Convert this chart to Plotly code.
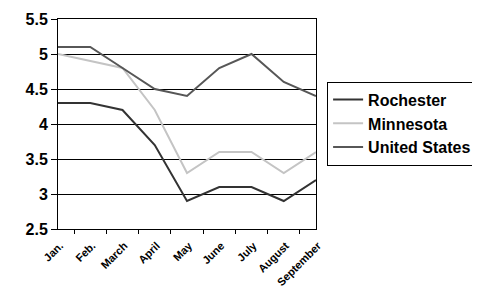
import plotly.graph_objects as go

months = ["Jan.", "Feb.", "March", "April", "May", "June", "July", "August", "September"]
rochester = [4.3, 4.3, 4.2, 3.7, 2.9, 3.1, 3.1, 2.9, 3.2]
minnesota = [5.0, 4.9, 4.8, 4.2, 3.3, 3.6, 3.6, 3.3, 3.6]
united_states = [5.1, 5.1, 4.8, 4.5, 4.4, 4.8, 5.0, 4.6, 4.4]

fig = go.Figure()
fig.add_trace(go.Scatter(x=months, y=rochester, name="Rochester", mode="lines",
                         line=dict(color="#333333", width=2)))
fig.add_trace(go.Scatter(x=months, y=minnesota, name="Minnesota", mode="lines",
                         line=dict(color="#c4c4c4", width=2)))
fig.add_trace(go.Scatter(x=months, y=united_states, name="United States", mode="lines",
                         line=dict(color="#575757", width=2)))

font = "Liberation Sans, Arial, sans-serif"
fig.update_layout(
    width=472, height=280,
    margin=dict(l=50, r=164, t=11, b=59, autoexpand=False),
    paper_bgcolor="white", plot_bgcolor="white",
    font=dict(family=font, color="black"),
    showlegend=True,
    legend=dict(x=1.043, y=0.502, xanchor="left", yanchor="middle",
                bordercolor="black", borderwidth=1,
                font=dict(size=16, family=font, weight="bold"),
                itemwidth=30, tracegroupgap=0),
    xaxis=dict(type="category", showgrid=False, showline=True, linecolor="black",
               linewidth=1, mirror=True, ticks="outside", tickson="boundaries",
               ticklen=4, tickcolor="black", tickangle=-45, automargin=False,
               ticklabelshift=2, ticklabelstandoff=5,
               tickfont=dict(size=11, family=font, weight="bold")),
    yaxis=dict(range=[2.5, 5.5], dtick=0.5, showgrid=True, gridcolor="black",
               gridwidth=1, showline=True, linecolor="black", linewidth=1,
               mirror=True, ticks="outside", ticklen=6, tickcolor="black",
               automargin=False,
               tickfont=dict(size=16, family=font, weight="bold"),
               zeroline=False),
)
fig.write_html("out.html")
